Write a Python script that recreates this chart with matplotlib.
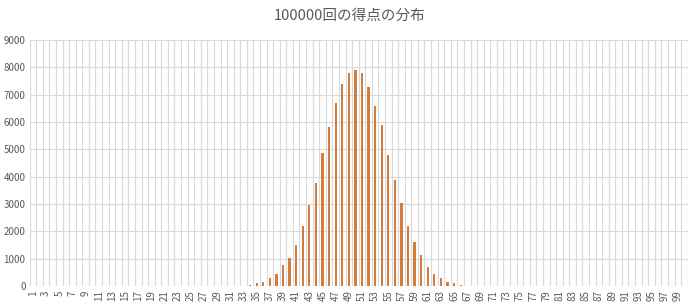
import matplotlib
matplotlib.use('Agg')
import matplotlib.pyplot as plt
import numpy as np

plt.rcParams['font.family'] = ['Noto Sans CJK JP', 'DejaVu Sans']

# score categories 1..100, counts (zero outside 34..66)
scores = list(range(1, 101))
nonzero_scores = list(range(34, 67))
nonzero_counts = [40, 100, 160, 280, 450, 770, 1040, 1510, 2180, 2960,
                  3780, 4870, 5800, 6700, 7380, 7800, 7890, 7800, 7290, 6600,
                  5890, 4810, 3880, 3050, 2200, 1610, 1150, 695, 440, 280,
                  160, 100, 40]
counts = [0] * len(scores)
for s, c in zip(nonzero_scores, nonzero_counts):
    counts[s - 1] = c

title = '100000回の得点の分布'
yticks = list(range(0, 9001, 1000))

text_col = '#595959'
grid_col = '#D9D9D9'
bar_col = '#D47C3C'

fig = plt.figure(figsize=(7, 3.06), dpi=100)
ax = fig.add_axes([0.0424, 0.0654, 0.94, 0.804])

ax.bar(scores, counts, width=0.34, color=bar_col, zorder=3)

ax.set_xlim(0.5, 100.5)
ax.set_ylim(0, 9000)

# gridlines: horizontal at each 1000, vertical at category boundaries
for y in yticks:
    ax.axhline(y, color=grid_col, lw=0.8, zorder=1)
for x in np.arange(0.5, 101, 1):
    ax.axvline(x, color=grid_col, lw=0.8, zorder=1)

ax.set_yticks(yticks)
ax.set_yticklabels([str(y) for y in yticks], fontsize=7, color=text_col)
labelled = [s for s in scores if s % 2 == 1]
ax.set_xticks(labelled)
ax.set_xticklabels([str(s) for s in labelled], fontsize=7, color=text_col,
                   rotation=90, va='top', ha='center')
ax.tick_params(axis='both', length=0, pad=3)
for sp in ax.spines.values():
    sp.set_visible(False)

fig.text(0.5, 0.948, title, ha='center', va='center', fontsize=10.5, color=text_col)

fig.savefig('out.png', dpi=100, facecolor='white')
